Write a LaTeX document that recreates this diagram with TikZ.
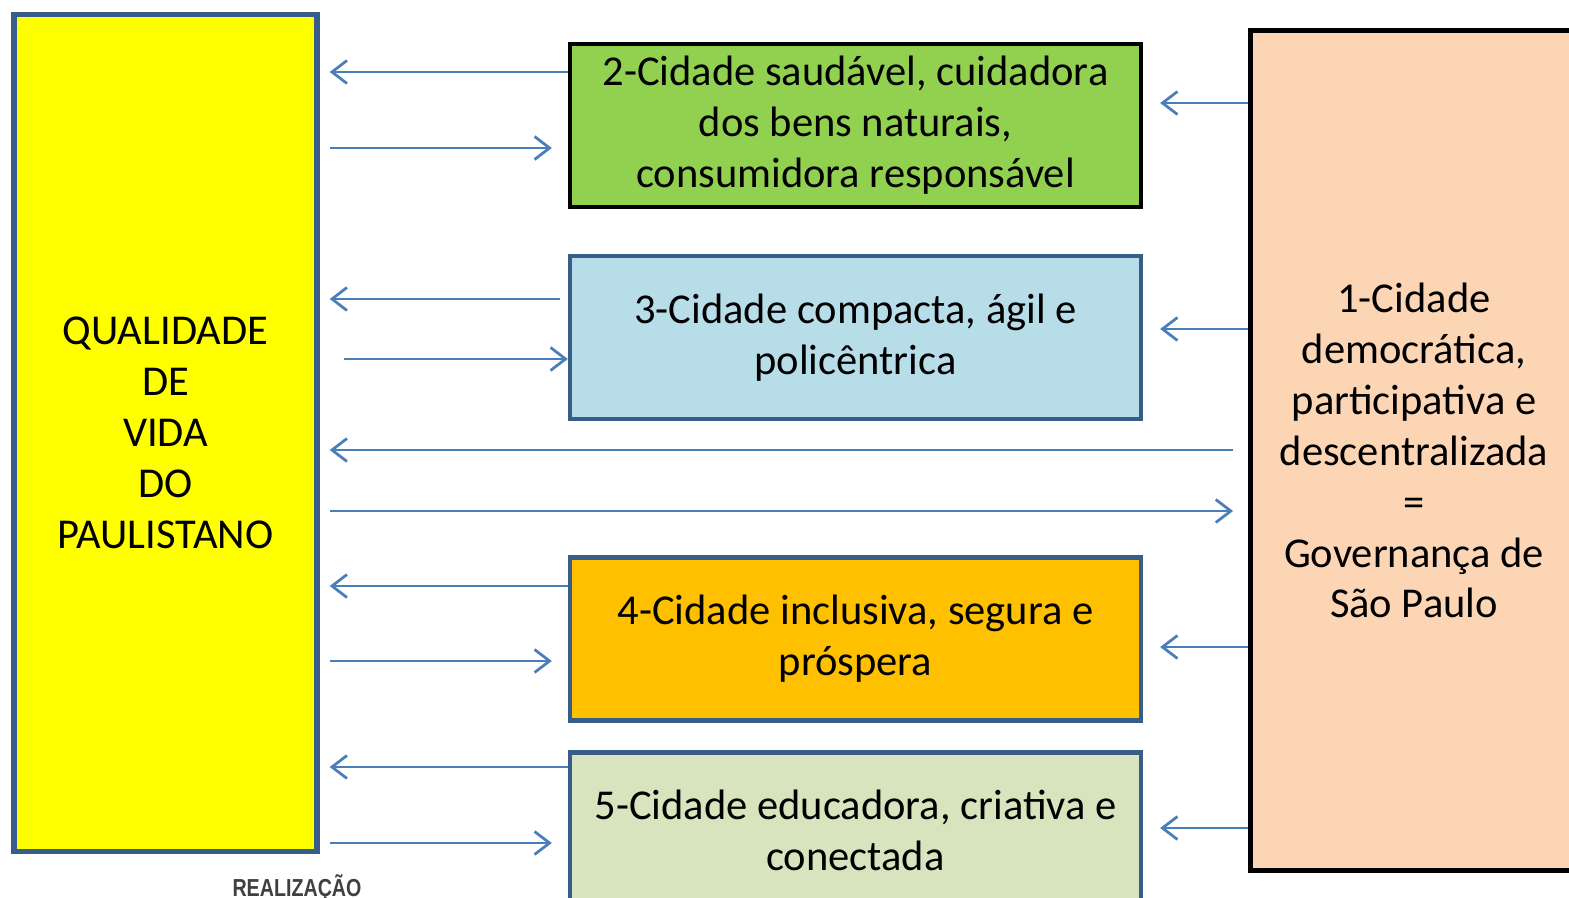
\documentclass[tikz,border=0pt]{standalone}
\usepackage{fontspec}
\setmainfont{Carlito}
\newfontfamily\logofont{Liberation Sans}
\usetikzlibrary{arrows.meta}
\definecolor{amarelo}{HTML}{FFFF00}
\definecolor{bordaazul}{HTML}{385D8A}
\definecolor{setaazul}{HTML}{4A7EBB}
\definecolor{verde}{HTML}{92D050}
\definecolor{azulclaro}{HTML}{B7DEE8}
\definecolor{laranja}{HTML}{FFC000}
\definecolor{verdeclaro}{HTML}{D7E4BD}
\definecolor{pessego}{HTML}{FCD5B5}
\tikzset{
	caixa/.style={draw=bordaazul, line width=0.09cm, align=center, inner sep=0pt,
		font=\fontsize{24.2}{29}\selectfont},
	eixo/.style={caixa, minimum width=11.42cm, minimum height=3.26cm},
	seta/.style={draw=setaazul, line width=0.055cm, -{Straight Barb[length=0.3cm, width=0.46cm, line width=0.055cm]}}
}
\begin{document}
\begin{tikzpicture}[x=0.02cm, y=-0.02cm]
	\useasboundingbox (0,0) rectangle (1569,898);
	\clip (0,0) rectangle (1569,898);
	\node[caixa, fill=amarelo, line width=0.11cm, minimum width=6.06cm, minimum height=16.74cm] (qualidade) at (165.5,433)
		{QUALIDADE\\DE\\VIDA\\DO\\PAULISTANO};
	\node[eixo, draw=black, fill=verde] (saudavel) at (855.5,125.5)
		{2-Cidade saudável, cuidadora\\dos bens naturais,\\consumidora responsável};
	\node[eixo, fill=azulclaro] (compacta) at (855.5,337.5)
		{3-Cidade compacta, ágil e\\policêntrica};
	\node[eixo, fill=laranja] (inclusiva) at (855.5,639)
		{4-Cidade inclusiva, segura e\\próspera};
	\node[eixo, fill=verdeclaro, minimum height=3.1cm] (educadora) at (855.5,830)
		{5-Cidade educadora, criativa e\\conectada};
	\node[caixa, draw=black, fill=pessego, line width=0.1cm, minimum width=6.54cm, minimum height=16.8cm] (governanca) at (1414,450.5)
		{1-Cidade\\democrática,\\participativa e\\descentralizada\\=\\Governança de\\São Paulo};
	\node[text=black!75, xscale=0.8, font=\logofont\bfseries\fontsize{14}{15}\selectfont] (realizacao) at (297,888) {REALIZAÇÃO};

	% setas entre a qualidade de vida e os eixos
	\foreach \eixo/\ya/\yb in {saudavel/72/148, inclusiva/586/661, educadora/767/843} {
		\draw[seta, shorten >=0.2cm] (\eixo.west |- 0,\ya) -- (qualidade.east |- 0,\ya);
		\draw[seta, shorten <=0.2cm, shorten >=0.32cm] (qualidade.east |- 0,\yb) -- (\eixo.west |- 0,\yb);
	}
	\draw[seta, shorten <=0.16cm, shorten >=0.2cm] (compacta.west |- 0,299) -- (qualidade.east |- 0,299);
	\draw[seta, shorten <=0.48cm] (qualidade.east |- 0,359) -- (compacta.west |- 0,359);
	\draw[seta, shorten <=0.3cm, shorten >=0.2cm] (governanca.west |- 0,450) -- (qualidade.east |- 0,450);
	\draw[seta, shorten <=0.2cm, shorten >=0.3cm] (qualidade.east |- 0,511) -- (governanca.west |- 0,511);

	% setas da governanca
	\foreach \eixo/\y in {saudavel/103, compacta/329, inclusiva/647, educadora/828}
		\draw[seta, shorten >=0.34cm] (governanca.west |- 0,\y) -- (\eixo.east |- 0,\y);
\end{tikzpicture}
\end{document}
